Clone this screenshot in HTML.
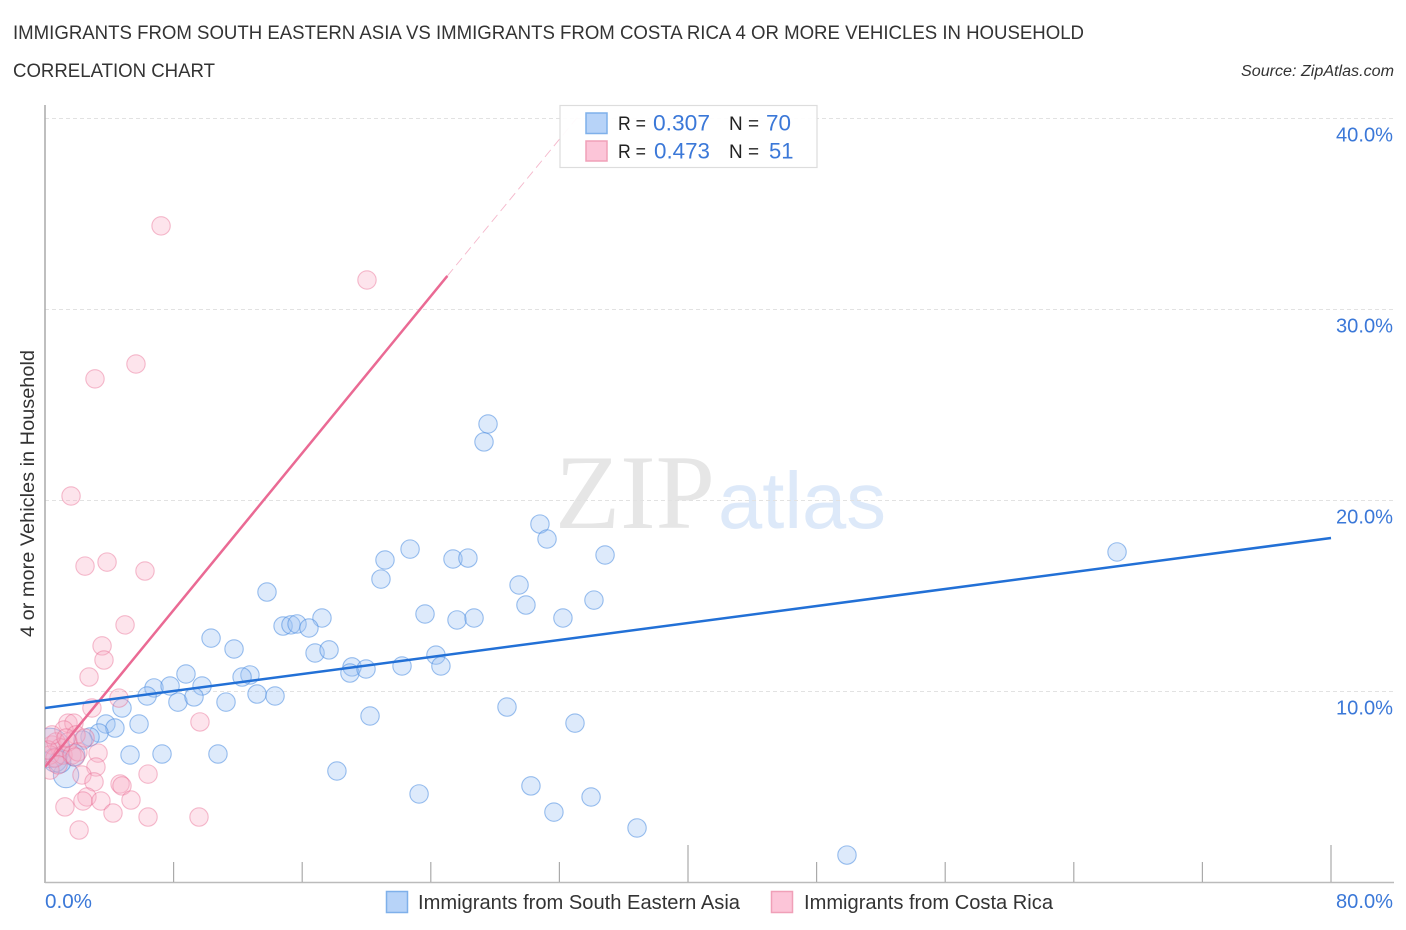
<!DOCTYPE html>
<html lang="en">
<head>
<meta charset="utf-8">
<title>Correlation Chart</title>
<style>
html,body{margin:0;padding:0;background:#fff;width:1406px;height:930px;overflow:hidden}
svg{display:block}
text{font-family:"Liberation Sans",sans-serif}
</style>
</head>
<body>
<svg id="chart" xmlns="http://www.w3.org/2000/svg" width="1406" height="930" viewBox="0 0 1406 930">
  <defs><clipPath id="plot-clip"><rect x="45" y="105" width="1349" height="777"/></clipPath></defs>
  <rect x="0" y="0" width="1406" height="930" fill="#fff"/>
  <text x="13" y="39" font-size="19.5" fill="#333" textLength="1071" lengthAdjust="spacingAndGlyphs">IMMIGRANTS FROM SOUTH EASTERN ASIA VS IMMIGRANTS FROM COSTA RICA 4 OR MORE VEHICLES IN HOUSEHOLD</text>
  <text x="13" y="77" font-size="19.5" fill="#333" textLength="202" lengthAdjust="spacingAndGlyphs">CORRELATION CHART</text>
  <text x="1241" y="76" font-size="15.5" font-style="italic" fill="#333" textLength="153" lengthAdjust="spacingAndGlyphs">Source: ZipAtlas.com</text>
  <g>
    <text x="555" y="528" font-size="106" fill="#e6e6e6" style="font-family:'Liberation Serif',serif" textLength="160" lengthAdjust="spacingAndGlyphs">ZIP</text>
    <text x="718" y="528" font-size="80" fill="#dde9f9" textLength="168" lengthAdjust="spacingAndGlyphs">atlas</text>
  </g>
  <g id="grid"></g>
  <g id="axes"></g>
  <g clip-path="url(#plot-clip)">
    <g id="blue-points"></g>
    <g id="pink-points"></g>
    <g id="trends"></g>
  </g>
  <text transform="translate(34,493.5) rotate(-90)" text-anchor="middle" font-size="19.5" fill="#333" textLength="287" lengthAdjust="spacingAndGlyphs">4 or more Vehicles in Household</text>
  <g>
    <rect x="560" y="105.500" width="257" height="62" fill="#fff" fill-opacity="0.93" stroke="#ddd" stroke-width="1.2"/>
    <rect x="586" y="113" width="21" height="20.500" fill="#b7d3f8" stroke="#7fb0ea" stroke-width="1.5"/>
    <rect x="586" y="141" width="21" height="20" fill="#fcc5d8" stroke="#f0a0b8" stroke-width="1.5"/>
    <text x="618" y="130" font-size="19.500" fill="#222" textLength="28" lengthAdjust="spacingAndGlyphs">R =</text>
    <text x="653" y="130.500" font-size="22" fill="#3b78d8" textLength="57" lengthAdjust="spacingAndGlyphs">0.307</text>
    <text x="729" y="130" font-size="19.500" fill="#222" textLength="30" lengthAdjust="spacingAndGlyphs">N =</text>
    <text x="766" y="130.500" font-size="22" fill="#3b78d8" textLength="25" lengthAdjust="spacingAndGlyphs">70</text>
    <text x="618" y="158" font-size="19.500" fill="#222" textLength="28" lengthAdjust="spacingAndGlyphs">R =</text>
    <text x="654" y="158.500" font-size="22" fill="#3b78d8" textLength="56" lengthAdjust="spacingAndGlyphs">0.473</text>
    <text x="729" y="158" font-size="19.500" fill="#222" textLength="30" lengthAdjust="spacingAndGlyphs">N =</text>
    <text x="769" y="158.500" font-size="22" fill="#3b78d8">51</text>
  </g>
  <g>
    <g>
      <rect x="386.500" y="891.500" width="21" height="21" fill="#b7d3f8" stroke="#7fb0ea" stroke-width="1.5"/>
      <text x="418" y="909" font-size="20" fill="#333" textLength="322" lengthAdjust="spacingAndGlyphs">Immigrants from South Eastern Asia</text>
    </g>
    <g>
      <rect x="771.500" y="891.500" width="21" height="21" fill="#fcc5d8" stroke="#f0a0b8" stroke-width="1.5"/>
      <text x="804" y="909" font-size="20" fill="#333" textLength="249" lengthAdjust="spacingAndGlyphs">Immigrants from Costa Rica</text>
    </g>
  </g>
</svg>
<script>
const yTickValues = [10, 20, 30, 40];
const yTickLabels = ["10.0%", "20.0%", "30.0%", "40.0%"];
const xTickValues = [0, 8, 16, 24, 32, 40, 48, 56, 64, 72, 80];
const xMajorTicks = [40, 80];
const xEndValues = [0, 80];
const xEndLabels = ["0.0%", "80.0%"];

const blueX = [66.69,27.56,27.31,30.79,31.23,34.84,22.71,21.15,20.90,25.38,26.31,29.49,29.92,34.15,32.22,23.64,25.63,26.69,13.81,17.23,14.81,15.30,15.68,16.42,10.33,11.76,16.80,17.67,24.32,24.63,22.21,19.10,18.97,19.97,8.77,12.75,12.26,6.78,7.78,9.77,6.35,8.27,9.27,11.26,13.19,14.31,4.79,20.22,28.74,32.97,5.85,3.79,4.35,3.36,2.80,2.36,5.29,7.28,10.76,18.16,30.23,23.27,33.97,31.66,36.83,49.89,1.31,1.80,0.31,0.62,0.93];
const blueY = [17.28,23.98,23.04,18.74,17.96,17.12,17.43,16.86,15.86,16.91,16.96,15.55,14.50,14.76,13.82,14.03,13.72,13.82,15.18,13.82,13.40,13.46,13.51,13.30,12.77,12.20,11.99,12.15,11.88,11.31,11.31,11.26,10.94,11.15,10.89,10.84,10.73,10.16,10.26,10.26,9.74,9.42,9.69,9.42,9.84,9.74,9.11,8.69,9.16,8.32,8.27,8.27,8.06,7.80,7.59,7.43,6.65,6.70,6.70,5.81,5.03,4.61,4.45,3.66,2.83,1.41,5.60,6.65,7.02,6.39,6.28];
const blueWeight = [1,1,1,1,1,1,1,1,1,1,1,1,1,1,1,1,1,1,1,1,1,1,1,1,1,1,1,1,1,1,1,1,1,1,1,1,1,1,1,1,1,1,1,1,1,1,1,1,1,1,1,1,1,1,1,1,1,1,1,1,1,1,1,1,1,1,1.9,1.4,4.6,1.7,1.4];

const pinkX = [7.22,20.03,5.66,3.11,1.62,2.49,3.86,6.22,4.98,3.55,3.67,2.74,4.60,2.92,9.64,1.43,1.80,1.18,1.93,3.30,3.17,6.41,2.30,3.05,4.67,4.79,2.61,2.36,3.48,5.35,1.24,4.23,6.41,9.58,2.12,0.31,0.44,0.68,0.93,0.31,0.62,1.12,1.68,1.43,2.05,0.19,0.44,2.49,0.81,1.87,1.31];
const pinkY = [34.35,31.52,27.12,26.34,20.21,16.54,16.75,16.28,13.46,12.36,11.62,10.73,9.63,9.11,8.38,8.32,8.32,7.96,7.70,6.75,6.02,5.65,5.60,5.24,5.13,5.03,4.45,4.24,4.24,4.29,3.93,3.61,3.40,3.40,2.72,5.86,7.17,7.33,7.02,6.65,6.49,6.65,6.65,7.33,6.81,6.91,7.70,7.54,6.13,6.54,7.54];

const blueTrendX = [0, 80];
const blueTrendY = [9.11, 18.01];
const pinkTrendX = [0, 25.03];
const pinkTrendY = [6.02, 31.73];
const pinkDashX = [25.03, 33.28];
const pinkDashY = [31.73, 40.2];

const NS = "http://www.w3.org/2000/svg";
function xScale(v) { return 45 + v * (1331 - 45) / 80; }
function yScale(v) { return 882 - v * (882 - 118) / 40; }
function rScale(w) { return 9.2 * Math.sqrt(w); }
function make(tag, attrs, parent) {
  const el = document.createElementNS(NS, tag);
  for (const k in attrs) el.setAttribute(k, attrs[k]);
  parent.appendChild(el);
  return el;
}

const grid = document.getElementById("grid");
yTickValues.forEach(function (v, i) {
  const lineY = Math.round(yScale(v)) + 0.5;
  const line = make("line", {x1: 45, x2: 1394, y1: lineY, y2: lineY, stroke: "#e2e2e2", "stroke-width": 1, "stroke-dasharray": "4 3"}, grid);
  
  
  const label = make("text", {x: 1393, y: yScale(v) + 23.5, "text-anchor": "end", "font-size": 20, fill: "#3b78d8", textLength: 57, lengthAdjust: "spacingAndGlyphs"}, grid);
  label.textContent = yTickLabels[i];
  
  
});

const axes = document.getElementById("axes");
const yAxisLine = make("line", {x1: 45, x2: 45, y1: 105, y2: 883, stroke: "#aaa", "stroke-width": 1.5}, axes);


const xAxisLine = make("line", {x1: 45, x2: 1394, y1: 882.5, y2: 882.5, stroke: "#bbb", "stroke-width": 1.5}, axes);


xTickValues.forEach(function (v) {
  if (v === 0) return;
  const top = xMajorTicks.indexOf(v) >= 0 ? 845 : 862;
  const tick = make("line", {x1: xScale(v), x2: xScale(v), y1: top, y2: 882, stroke: "#aaa", "stroke-width": 1.2}, axes);
  
  
});
xEndValues.forEach(function (v, i) {
  const isLast = v === 80;
  const label = make("text", {x: isLast ? 1393 : xScale(v), y: 908, "text-anchor": isLast ? "end" : "start", "font-size": 20, fill: "#3b78d8", textLength: isLast ? 57 : 47, lengthAdjust: "spacingAndGlyphs"}, axes);
  label.textContent = xEndLabels[i];
  
  
});

const bluePoints = document.getElementById("blue-points");
blueX.forEach(function (v, i) {
  const c = make("circle", {cx: xScale(v), cy: yScale(blueY[i]), r: rScale(blueWeight[i]), fill: "#9dc3f3", "fill-opacity": 0.35, stroke: "#4a8ce0", "stroke-opacity": 0.55, "stroke-width": 1.1}, bluePoints);
  
  
});

const pinkPoints = document.getElementById("pink-points");
pinkX.forEach(function (v, i) {
  const c = make("circle", {cx: xScale(v), cy: yScale(pinkY[i]), r: rScale(1), fill: "#f8aec5", "fill-opacity": 0.33, stroke: "#e8648c", "stroke-opacity": 0.42, "stroke-width": 1.1}, pinkPoints);
  
  
});

const trends = document.getElementById("trends");
const pinkDash = make("line", {x1: xScale(pinkDashX[0]), y1: yScale(pinkDashY[0]), x2: xScale(pinkDashX[1]), y2: yScale(pinkDashY[1]), stroke: "#ec6f97", "stroke-opacity": 0.5, "stroke-width": 0.9, "stroke-dasharray": "9 5"}, trends);


const pinkTrend = make("line", {x1: xScale(pinkTrendX[0]), y1: yScale(pinkTrendY[0]), x2: xScale(pinkTrendX[1]), y2: yScale(pinkTrendY[1]), stroke: "#ea6a94", "stroke-width": 2.5}, trends);


const blueTrend = make("line", {x1: xScale(blueTrendX[0]), y1: yScale(blueTrendY[0]), x2: xScale(blueTrendX[1]), y2: yScale(blueTrendY[1]), stroke: "#2270d6", "stroke-width": 2.5}, trends);


</script>
</body>
</html>
